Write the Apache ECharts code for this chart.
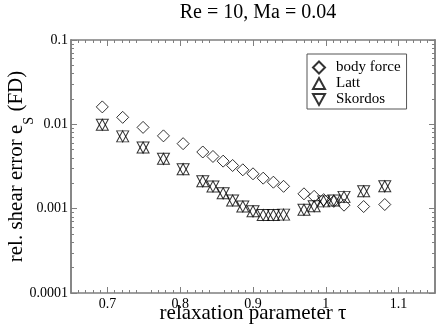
<!DOCTYPE html>
<html>
<head>
<meta charset="utf-8">
<script src="https://cdn.jsdelivr.net/npm/echarts@6/dist/echarts.min.js"></script>
<style>
  html, body { margin: 0; padding: 0; background: #fff; }
  #chart { width: 436px; height: 331px; }
</style>
</head>
<body>
<div id="chart"></div>
<script>
// relaxation parameter tau
const tau = [0.693, 0.721, 0.749, 0.777, 0.804, 0.831, 0.845, 0.859, 0.872, 0.886, 0.900,
  0.914, 0.928, 0.942, 0.970, 0.984, 0.997, 1.011, 1.025, 1.052, 1.081];
const bodyForce = [0.0161, 0.0121, 0.0092, 0.0073, 0.0059, 0.0047, 0.00416, 0.00366, 0.00325,
  0.00289, 0.00259, 0.0023, 0.00206, 0.00184, 0.0015, 0.0014, 0.00128, 0.00122, 0.0011, 0.00106, 0.00112];
const latt = [0.0099, 0.0072, 0.0053, 0.0039, 0.00294, 0.00211, 0.00183, 0.00152, 0.00125,
  0.00106, 0.00093, 0.00084, 0.00084, 0.00085, 0.00097, 0.00107, 0.00122, 0.00125, 0.00138, 0.00161, 0.00184];
const skordos = [0.0099, 0.0072, 0.0053, 0.0039, 0.00294, 0.00211, 0.00183, 0.00152, 0.00125,
  0.00106, 0.00093, 0.00084, 0.00084, 0.00085, 0.00097, 0.00107, 0.00122, 0.00125, 0.00138, 0.00161, 0.00184];
const xLabels = [0.7, 0.8, 0.9, 1.0, 1.1];
const yMajor = [0.0001, 0.001, 0.01, 0.1];
const yMinor = [];
yMajor.slice(0, 3).forEach(d => { for (let k = 2; k <= 9; k++) yMinor.push(+(d * k).toPrecision(3)); });

const serif = "Liberation Serif";
const frame = "#7f7f7f";

function pairs(ys) { return tau.map((t, i) => [t, ys[i]]); }

const hollow = { color: "transparent", borderColor: "#000", borderWidth: 1 };
const downTri = "path://M0,0 L10,0 L5,9 Z";
const upTri = "path://M5,0 L10,9 L0,9 Z";

function yAx(pos, minor) {
  const main = pos === "left" && !minor;
  return {
    type: "log", min: 0.0001, max: 0.1, logBase: 10, position: pos, offset: 0,
    axisLine: { show: true, lineStyle: { color: frame, width: 1.5 } },
    axisTick: minor
      ? { show: true, inside: true, length: 3, customValues: yMinor, lineStyle: { color: frame } }
      : { show: true, inside: true, length: 6, customValues: yMajor, lineStyle: { color: frame } },
    axisLabel: main
      ? { show: true, customValues: yMajor, margin: 3, color: "#000", fontFamily: serif, fontSize: 14,
          formatter: v => String(+v.toPrecision(1)) }
      : { show: false },
    splitLine: { show: false },
    name: main ? "{a|rel. shear error e}{s|S}{a| (FD)}" : "",
    nameLocation: "middle", nameGap: 44, nameMoveOverlap: false,
    nameTextStyle: {
      rich: {
        a: { fontFamily: serif, fontSize: 21, color: "#000" },
        s: { fontFamily: serif, fontSize: 14, color: "#000", verticalAlign: "bottom", padding: [0, 0, -9, 0] }
      }
    }
  };
}

function xAx(pos) {
  return {
    type: "value", min: 0.65, max: 1.15, interval: 0.05, position: pos,
    axisLine: { show: true, onZero: false, lineStyle: { color: frame, width: 1.5 } },
    axisTick: { show: true, inside: true, length: 6, lineStyle: { color: frame }, customValues: xLabels },
    minorTick: { show: true, splitNumber: 5, length: 3, lineStyle: { color: frame } },
    axisLabel: pos === "bottom"
      ? { show: true, customValues: xLabels, color: "#000", fontFamily: serif, fontSize: 14, margin: 4,
          formatter: v => String(+v.toFixed(2)) }
      : { show: false },
    splitLine: { show: false }
  };
}

const chart = echarts.init(document.getElementById("chart"), null, { renderer: "canvas" });
chart.setOption({
  animation: false,
  backgroundColor: "#fff",
  title: [
    {
      text: "Re = 10, Ma = 0.04", left: 253, top: -2, textAlign: "center",
      textStyle: { fontFamily: serif, fontSize: 20, fontWeight: "normal", color: "#000" }
    },
    {
      // x axis title
      text: "relaxation parameter \u03c4", left: 253, top: 303, textAlign: "center", padding: 0,
      textStyle: { fontFamily: serif, fontSize: 21, fontWeight: "normal", color: "#000" }
    }
  ],
  grid: { left: 71, right: 1, top: 40, bottom: 38, outerBoundsMode: "none", containLabel: false },
  legend: {
    left: 307, top: 54, orient: "vertical", itemGap: 1, itemWidth: 12, itemHeight: 12,
    padding: [6, 6, 2, 5], borderColor: "#555", borderWidth: 1,
    textStyle: { fontFamily: serif, fontSize: 15, color: "#000", padding: [0, 0, 0, 6] },
    data: [
      { name: "body force", icon: "diamond" },
      { name: "Latt", icon: upTri },
      { name: "Skordos", icon: downTri }
    ]
  },
  xAxis: [xAx("bottom"), xAx("top")],
  yAxis: [yAx("left", false), yAx("left", true), yAx("right", false), yAx("right", true)],
  series: [
    { name: "body force", type: "scatter", symbol: "diamond", symbolSize: [12, 12],
      itemStyle: hollow, data: pairs(bodyForce) },
    { name: "Latt", type: "scatter", symbol: upTri, symbolSize: [12, 11],
      itemStyle: hollow, data: pairs(latt) },
    { name: "Skordos", type: "scatter", symbol: downTri, symbolSize: [12, 11],
      itemStyle: hollow, data: pairs(skordos) }
  ]
});
</script>
</body>
</html>
